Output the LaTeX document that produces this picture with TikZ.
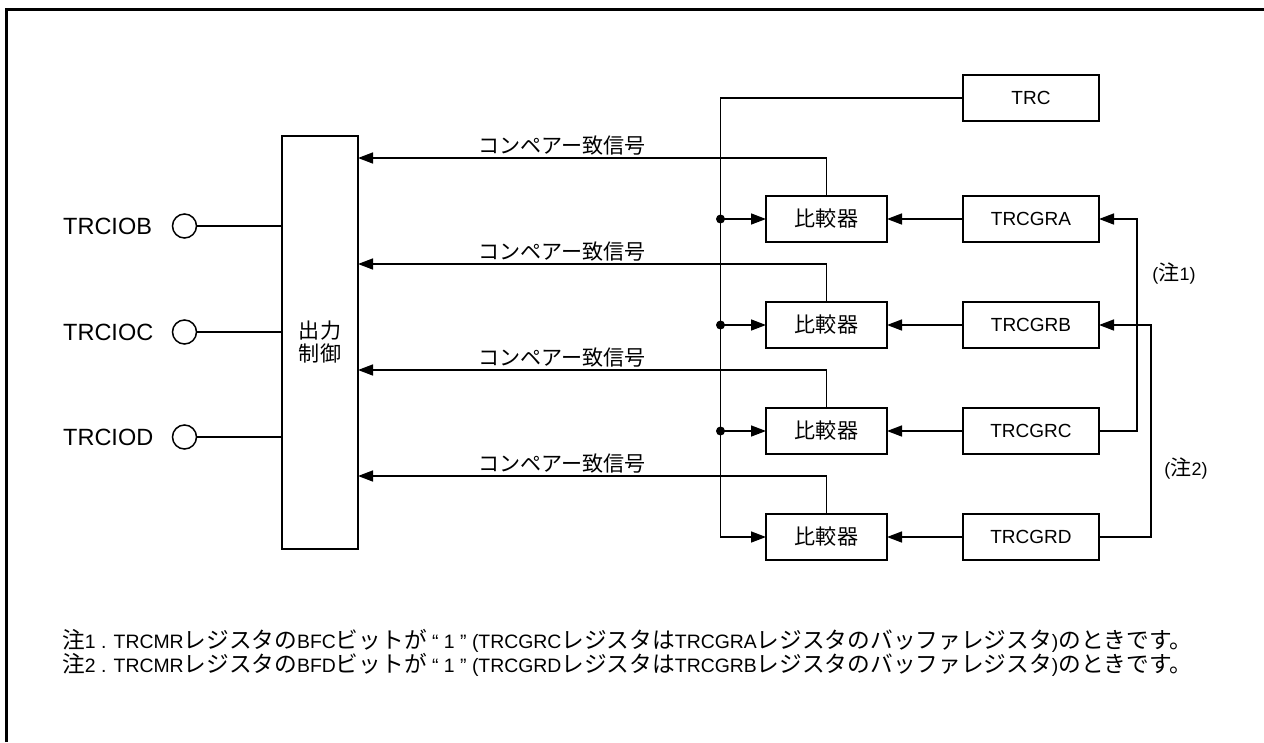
\documentclass[tikz,border=0pt]{standalone}
\usepackage{fontspec}
\setmainfont{Liberation Sans}
\newfontfamily\jpfont[Scale=1.17]{Noto Sans CJK JP}
\newcommand{\jp}[1]{{\jpfont #1}}
\usetikzlibrary{arrows.meta,positioning}

\begin{document}
\begin{tikzpicture}[x=1pt, y=-1pt,
  box/.style={draw, line width=1.5pt, inner sep=0pt, outer sep=0pt, font=\fontsize{18}{23}\selectfont},
  cmpbox/.style={box, minimum width=121pt, minimum height=46pt},
  regbox/.style={box, minimum width=136pt, minimum height=46pt, font=\fontsize{19}{23}\selectfont},
  pin/.style={draw, circle, line width=1.5pt, minimum size=24pt, inner sep=0pt, outer sep=0pt},
  pinlabel/.style={anchor=west, inner sep=0pt, font=\fontsize{23.5}{26}\selectfont},
  siglabel/.style={inner sep=0pt, font=\fontsize{18}{23}\selectfont},
  wire/.style={line width=1.5pt},
  arrow/.style={wire, -{Triangle[length=15pt, width=11pt]}},
  dot/.style={circle, fill, inner sep=0pt, minimum size=9pt}
]
\useasboundingbox (0,0) rectangle (1264,742);
\draw[line width=3pt] (6.5,742) -- (6.5,9.5) -- (1264,9.5);

% output control block
\node[box, minimum width=76pt, minimum height=413pt, align=center] (ctrl) at (320,342.5) {\jp{出力}\\\jp{制御}};

% comparators and registers
\node[cmpbox] (cmpA) at (826.5,219) {\jp{比較器}};
\node[cmpbox, below=60pt of cmpA] (cmpB) {\jp{比較器}};
\node[cmpbox, below=60pt of cmpB] (cmpC) {\jp{比較器}};
\node[cmpbox, below=60pt of cmpC] (cmpD) {\jp{比較器}};
\node[regbox, right=76pt of cmpA] (grA) {TRCGRA};
\node[regbox, right=76pt of cmpB] (grB) {TRCGRB};
\node[regbox, right=76pt of cmpC] (grC) {TRCGRC};
\node[regbox, right=76pt of cmpD] (grD) {TRCGRD};
\node[regbox, above=75pt of grA] (trc) {TRC};

% counter bus
\coordinate (bus) at (720.5,98);
\draw[arrow] (trc.west) -- (bus) |- (cmpD.west);
\foreach \n in {A,B,C} {
  \node[dot] (j\n) at (bus |- cmp\n.west) {};
  \draw[arrow] (j\n.center) -- (cmp\n.west);
}

% compare match signals
\foreach \n in {A,B,C,D} {
  \draw[arrow] (cmp\n.north) -- ++(0,-38) coordinate (sig\n) -- (sig\n -| ctrl.east)
    node[siglabel, pos=0.565, above=2pt] (lbl\n) {\jp{コンペアー致信号}};
  \draw[arrow] (gr\n.west) -- (cmp\n.east);
}

% buffer paths
\draw[arrow] (grC.east) -- ++(38,0) |- (grA.east);
\draw[arrow] (grD.east) -- ++(52,0) |- (grB.east);
\node[siglabel] (note1) at (1174,273) {(\jp{注}1)};
\node[siglabel] (note2) at (1186,468) {(\jp{注}2)};

% pins
\foreach \n/\y in {B/226, C/332, D/437} {
  \node[pin] (pin\n) at (184.5,\y) {};
  \node[pinlabel] (pinlbl\n) at (63,\y) {TRCIO\n};
  \draw[wire] (pin\n.east) -- (pin\n.east -| ctrl.west);
}

% notes
\node[siglabel, anchor=north west, align=left, font=\fontsize{19.4}{22}\selectfont] (notes) at (62,629)
  {\jp{注}1 . TRCMR\jp{レジスタの}BFC\jp{ビットが} “ 1 ” (TRCGRC\jp{レジスタは}TRCGRA\jp{レジスタのバッファレジスタ})\jp{のときです。}\\
   \jp{注}2 . TRCMR\jp{レジスタの}BFD\jp{ビットが} “ 1 ” (TRCGRD\jp{レジスタは}TRCGRB\jp{レジスタのバッファレジスタ})\jp{のときです。}};
\end{tikzpicture}
\end{document}
